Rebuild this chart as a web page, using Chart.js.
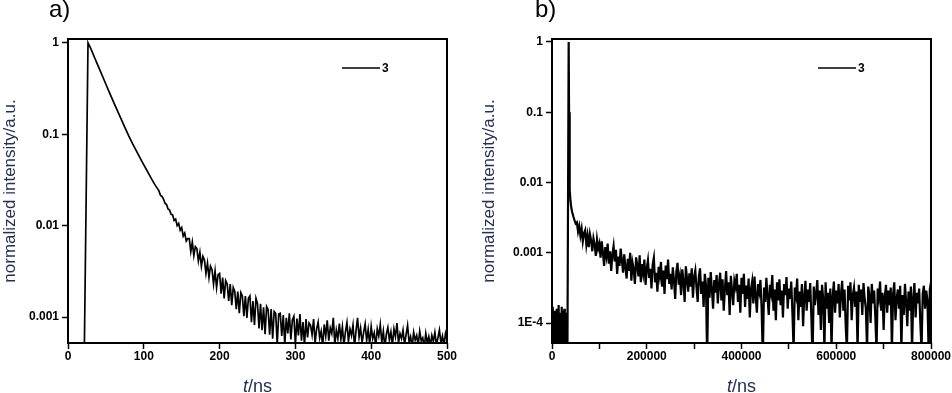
<!DOCTYPE html>
<html>
<head>
<meta charset="utf-8">
<script src="https://cdn.jsdelivr.net/npm/chart.js@4.4.1/dist/chart.umd.min.js"></script>
<style>
  body { margin: 0; background: #fff; width: 952px; height: 393px; position: relative; overflow: hidden;
         font-family: "Liberation Sans", Arial, sans-serif; }
  .box { position: absolute; top: 0; width: 476px; height: 393px; }
  .tag { position: absolute; top: -3px; font-size: 24px; line-height: 1; color: #000; }
  .xt  { position: absolute; top: 377px; width: 379px; font-size: 18px; line-height: 1; color: #233050; text-align: center; }
</style>
</head>
<body>
<div class="box" style="left:0"><canvas id="ca" width="476" height="393"></canvas></div>
<div class="box" style="left:476px"><canvas id="cb" width="476" height="393"></canvas></div>
<div class="tag" style="left:49px">a)</div>
<div class="tag" style="left:535px">b)</div>
<div class="xt" style="left:68px"><i>t</i>/ns</div>
<div class="xt" style="left:552px"><i>t</i>/ns</div>
<script>
// panel a) short time window, t in ns
const tA = [0, 21.5, 26.4, 30, 35, 40, 45, 50, 55, 60,
  65, 70, 75, 80, 85, 90, 95, 100, 105, 110, 115,
  120, 122, 124, 126, 128, 130, 132, 134, 136, 138, 140, 142, 144, 146, 148, 150, 152, 154, 156, 158,
  160, 162, 164, 166, 168, 170, 172, 174, 176, 178, 180, 182, 184, 186, 188, 190, 192, 194, 196, 198,
  200, 202, 204, 206, 208, 210, 212, 214, 216, 218, 220, 222, 224, 226, 228, 230, 232, 234, 236, 238,
  240, 242, 244, 246, 248, 250, 252, 254, 256, 258, 260, 262, 264, 266, 268, 270, 272, 274, 276, 278,
  280, 282, 284, 286, 288, 290, 292, 294, 296, 298, 300, 302, 304, 306, 308, 310, 312, 314, 316, 318,
  320, 322, 324, 326, 328, 330, 332, 334, 336, 338, 340, 342, 344, 346, 348, 350, 352, 354, 356, 358,
  360, 362, 364, 366, 368, 370, 372, 374, 376, 378, 380, 382, 384, 386, 388, 390, 392, 394, 396, 398,
  400, 402, 404, 406, 408, 410, 412, 414, 416, 418, 420, 422, 424, 426, 428, 430, 432, 434, 436, 438,
  440, 442, 444, 446, 448, 450, 452, 454, 456, 458, 460, 462, 464, 466, 468, 470, 472, 474, 476, 478,
  480, 482, 484, 486, 488, 490, 492, 494, 496, 498, 500];
const iA = [4e-4, 4e-4, 1.0, 0.867, 0.690, 0.551, 0.441, 0.352, 0.282, 0.226,
  0.182, 0.147, 0.119, 0.0966, 0.0794, 0.0661, 0.0552, 0.0462, 0.0389, 0.0327, 0.0277,
  0.0240, 0.0214, 0.0209, 0.0195, 0.0176, 0.0170, 0.0152, 0.0148, 0.0133, 0.0131, 0.0114, 0.0118, 0.0100, 0.0106, 0.0089, 0.0095, 0.0077, 0.0083, 0.0068, 0.0072,
  0.0072, 0.0052, 0.0066, 0.0047, 0.0059, 0.0056, 0.0041, 0.0051, 0.0036, 0.0046, 0.0042, 0.0030, 0.0039, 0.0027, 0.0036, 0.0033, 0.0023, 0.0032, 0.0021, 0.0029,
  0.0030, 0.0018, 0.0027, 0.0016, 0.0025, 0.0023, 0.0015, 0.0023, 0.00135, 0.0021, 0.0019, 0.00122, 0.0019, 0.0011, 0.00185, 0.0017, 0.00102, 0.0017, 0.00098, 0.0016,
  0.0017, 0.00088, 0.0015, 0.00082, 0.0016, 0.0014, 0.00075, 0.0014, 0.00072, 0.00128, 0.00065, 0.0013, 0.0012, 0.00064, 0.00122, 0.00058, 0.00115, 0.0011, 0.0005, 0.00108,
  0.0011, 0.00062, 0.00105, 0.0005, 0.00098, 0.00066, 0.0011, 0.00057, 0.00093, 0.00102, 0.0005, 0.00096, 0.00063, 0.00108, 0.00055, 0.00088, 0.00049, 0.00095, 0.0006, 0.00086,
  0.00081, 0.00064, 0.00095, 0.00052, 0.00074, 0.00088, 0.00059, 0.0007, 0.00048, 0.00083, 0.00062, 0.00092, 0.00055, 0.00076, 0.00066, 0.00098, 0.0005, 0.00072, 0.00058, 0.00085,
  0.00057, 0.00078, 0.00049, 0.00069, 0.00087, 0.00054, 0.00074, 0.00063, 0.00082, 0.00047, 0.00071, 0.00098, 0.0006, 0.00076, 0.00052, 0.00068, 0.00084, 0.00055, 0.00073, 0.0005,
  0.00079, 0.00058, 0.00067, 0.00048, 0.00074, 0.00062, 0.00083, 0.00053, 0.0007, 0.00046, 0.00065, 0.00077, 0.00056, 0.00069, 0.00049, 0.00074, 0.00061, 0.00086, 0.00052, 0.00066,
  0.00058, 0.00072, 0.0005, 0.00064, 0.00081, 0.00053, 0.00061, 0.00047, 0.00068, 0.00056, 0.00063, 0.00049, 0.0007, 0.00055, 0.00059, 0.00046, 0.00066, 0.00052, 0.00061, 0.00048,
  0.00063, 0.00054, 0.00068, 0.0005, 0.00059, 0.00072, 0.00052, 0.00062, 0.00049, 0.00066, 0.00057];

// panel b) long time window, t in ns
const tB = [0, 1000, 2000, 3000, 4000, 5000, 6000, 7000, 8000, 9000,
  10000, 11000, 12000, 13000, 14000, 15000, 16000, 17000, 18000, 19000,
  20000, 21000, 22000, 23000, 24000, 25000, 26000, 27000, 28000, 29000,
  30000, 31000, 32000, 32500,
  35200, 36000, 36800, 37800, 39000, 40500, 42500, 45000, 47500, 50000,
  52500, 55000, 57500, 60000, 62500, 65000, 67500, 70000, 72500, 75000, 77500, 80000, 82500, 85000, 87500, 90000, 92500, 95000, 97500, 100000,
  102500, 105000, 107500, 110000, 112500, 115000, 117500, 120000, 122500, 125000, 127500, 130000, 132500, 135000, 137500, 140000, 142500, 145000, 147500, 150000,
  152500, 155000, 157500, 160000, 162500, 165000, 167500, 170000, 172500, 175000, 177500, 180000, 182500, 185000, 187500, 190000, 192500, 195000, 197500, 200000,
  202500, 205000, 207500, 210000, 212500, 215000, 217500, 220000, 222500, 225000, 227500, 230000, 232500, 235000, 237500, 240000, 242500, 245000, 247500, 250000,
  252500, 255000, 257500, 260000, 262500, 265000, 267500, 270000, 272500, 275000, 277500, 280000, 282500, 285000, 287500, 290000, 292500, 295000, 297500, 300000,
  302500, 305000, 307500, 310000, 312500, 315000, 317500, 320000, 322500, 325000, 327500, 330000, 332500, 335000, 337500, 340000, 342500, 345000, 347500, 350000,
  352500, 355000, 357500, 360000, 362500, 365000, 367500, 370000, 372500, 375000, 377500, 380000, 382500, 385000, 387500, 390000, 392500, 395000, 397500, 400000,
  402500, 405000, 407500, 410000, 412500, 415000, 417500, 420000, 422500, 425000, 427500, 430000, 432500, 435000, 437500, 440000, 442500, 445000, 447500, 450000,
  452500, 455000, 457500, 460000, 462500, 465000, 467500, 470000, 472500, 475000, 477500, 480000, 482500, 485000, 487500, 490000, 492500, 495000, 497500, 500000,
  502500, 505000, 507500, 510000, 512500, 515000, 517500, 520000, 522500, 525000, 527500, 530000, 532500, 535000, 537500, 540000, 542500, 545000, 547500, 550000,
  552500, 555000, 557500, 560000, 562500, 565000, 567500, 570000, 572500, 575000, 577500, 580000, 582500, 585000, 587500, 590000, 592500, 595000, 597500, 600000,
  602500, 605000, 607500, 610000, 612500, 615000, 617500, 620000, 622500, 625000, 627500, 630000, 632500, 635000, 637500, 640000, 642500, 645000, 647500, 650000,
  652500, 655000, 657500, 660000, 662500, 665000, 667500, 670000, 672500, 675000, 677500, 680000, 682500, 685000, 687500, 690000, 692500, 695000, 697500, 700000,
  702500, 705000, 707500, 710000, 712500, 715000, 717500, 720000, 722500, 725000, 727500, 730000, 732500, 735000, 737500, 740000, 742500, 745000, 747500, 750000,
  752500, 755000, 757500, 760000, 762500, 765000, 767500, 770000, 772500, 775000, 777500, 780000, 782500, 785000, 787500, 790000, 792500, 795000, 797500, 800000];
const iB = [1.4e-4, 3e-5, 1.7e-4, 4e-5, 1.2e-4, 3e-5, 1.5e-4, 5e-5, 1.3e-4, 3e-5,
  1.6e-4, 4e-5, 1.1e-4, 3e-5, 1.8e-4, 5e-5, 1.4e-4, 3e-5, 1.2e-4, 4e-5,
  1.7e-4, 3e-5, 1.3e-4, 5e-5, 1.5e-4, 3e-5, 1.6e-4, 4e-5, 1.2e-4, 3e-5,
  1.4e-4, 4e-5, 1.3e-4, 3e-5,
  1.0, 0.1, 0.02, 0.008, 0.0055, 0.0045, 0.0038, 0.0033, 0.0029, 0.0026,
  2.7e-3, 2.0e-3, 2.4e-3, 1.75e-3, 2.2e-3, 1.45e-3, 1.9e-3, 2.1e-3, 1.3e-3, 1.75e-3, 1.2e-3, 1.85e-3, 1.5e-3, 1.05e-3, 1.6e-3, 1.3e-3, 9e-4, 1.55e-3, 1.15e-3, 1.35e-3,
  8.5e-4, 1.45e-3, 1.0e-3, 6.5e-4, 1.2e-3, 9e-4, 1.35e-3, 7e-4, 1.05e-3, 5.5e-4, 9.5e-4, 1.25e-3, 7.5e-4, 1.1e-3, 5e-4, 8.8e-4, 6.5e-4, 1.15e-3, 7.8e-4, 5.2e-4,
  9.5e-4, 6.2e-4, 4.3e-4, 8.2e-4, 5.5e-4, 1.0e-3, 4.0e-4, 7.2e-4, 5.8e-4, 3.6e-4, 8.6e-4, 6.6e-4, 4.6e-4, 9.2e-4, 3.8e-4, 6.9e-4, 5.1e-4, 8.0e-4, 3.5e-4, 6.0e-4,
  7.8e-4, 4.4e-4, 5.9e-4, 3.1e-4, 6.8e-4, 8.5e-4, 3.8e-4, 5.2e-4, 2.8e-4, 6.3e-4, 4.7e-4, 7.4e-4, 3.3e-4, 5.6e-4, 2.6e-4, 6.6e-4, 4.2e-4, 8.0e-4, 3.6e-4, 5.0e-4,
  3.0e-4, 6.2e-4, 4.1e-4, 2.2e-4, 5.4e-4, 7.2e-4, 3.5e-4, 4.6e-4, 2.5e-4, 5.8e-4, 3.8e-4, 2.0e-4, 6.4e-4, 4.3e-4, 2.8e-4, 5.1e-4, 3.3e-4, 6.0e-4, 2.3e-4, 4.5e-4,
  5.6e-4, 3.2e-4, 2.0e-4, 4.6e-4, 6.0e-4, 2.6e-4, 3.9e-4, 1.7e-4, 5.0e-4, 3.5e-4, 3e-5, 4.4e-4, 2.3e-4, 5.3e-4, 3.0e-4, 1.6e-4, 4.1e-4, 2.7e-4, 4.8e-4, 1.9e-4,
  3.6e-4, 5.2e-4, 2.1e-4, 4.2e-4, 1.5e-4, 3.1e-4, 5.5e-4, 2.5e-4, 3.8e-4, 1.3e-4, 4.7e-4, 2.9e-4, 1.8e-4, 4.0e-4, 3.3e-4, 5.0e-4, 2.0e-4, 3.5e-4, 1.4e-4, 4.4e-4,
  2.6e-4, 5.0e-4, 1.7e-4, 3.4e-4, 2.2e-4, 4.3e-4, 1.2e-4, 3.0e-4, 3.9e-4, 1.9e-4, 4.6e-4, 2.4e-4, 1.4e-4, 3.6e-4, 2.8e-4, 4.1e-4, 1.6e-4, 3e-5, 3.2e-4, 2.0e-4,
  4.4e-4, 2.3e-4, 1.3e-4, 3.5e-4, 2.7e-4, 4.8e-4, 1.5e-4, 3.0e-4, 1.1e-4, 3.8e-4, 2.1e-4, 4.2e-4, 1.8e-4, 2.9e-4, 1.2e-4, 3.6e-4, 2.5e-4, 4.5e-4, 1.6e-4, 3.1e-4,
  2.2e-4, 3.9e-4, 1.4e-4, 4e-5, 3.2e-4, 2.5e-4, 4.3e-4, 1.1e-4, 2.8e-4, 1.7e-4, 3.6e-4, 9e-5, 2.4e-4, 4.0e-4, 1.5e-4, 3.0e-4, 2.0e-4, 3.7e-4, 1.2e-4, 3e-5,
  3.3e-4, 1.8e-4, 2.6e-4, 4.1e-4, 1.3e-4, 2.9e-4, 8e-5, 3.5e-4, 2.2e-4, 4e-5, 3.8e-4, 1.6e-4, 2.7e-4, 1.0e-4, 3.1e-4, 4e-5, 2.4e-4, 3.9e-4, 1.4e-4, 2.9e-4,
  1.9e-4, 3.6e-4, 1.2e-4, 2.6e-4, 4.0e-4, 1.5e-4, 3.0e-4, 9e-5, 4e-5, 3.4e-4, 2.1e-4, 3.8e-4, 1.1e-4, 2.5e-4, 3.2e-4, 1.7e-4, 2.8e-4, 4e-5, 3.5e-4, 2.0e-4,
  3.0e-4, 1.3e-4, 3.7e-4, 2.2e-4, 1.6e-4, 4e-5, 3.3e-4, 2.5e-4, 1.0e-4, 3.6e-4, 1.9e-4, 2.9e-4, 1.2e-4, 4e-5, 3.1e-4, 2.3e-4, 3.9e-4, 1.5e-4, 2.7e-4, 8e-5,
  2.4e-4, 3.5e-4, 1.4e-4, 2.9e-4, 1.8e-4, 3.2e-4, 4e-5, 2.6e-4, 3.8e-4, 1.1e-4, 2.2e-4, 3.0e-4, 1.6e-4, 3.4e-4, 4e-5, 2.5e-4, 1.3e-4, 3.6e-4, 2.0e-4, 9e-5,
  2.8e-4, 1.5e-4, 3.3e-4, 4e-5, 2.3e-4, 3.7e-4, 1.2e-4, 2.7e-4, 1.9e-4, 3.1e-4, 1.0e-4, 4e-5, 2.6e-4, 3.4e-4, 1.6e-4, 2.9e-4, 2.1e-4, 4e-5, 3.0e-4, 3.8e-4];

const seriesName = '3';
const yTicksA = [0.001, 0.01, 0.1, 1];
const yLabelsA = ['0.001', '0.01', '0.1', '1'];
const yTicksB = [1e-4, 0.001, 0.01, 0.1, 1];
const yLabelsB = ['1E-4', '0.001', '0.01', '0.1', '1'];

const FONT = '"Liberation Sans", Arial, sans-serif';
Chart.defaults.font.family = FONT;

// box around the plot + the little legend
const framePlugin = {
  id: 'frame',
  afterDatasetsDraw(chart, args, opts) {
    const { ctx, chartArea: { left, top, right, bottom } } = chart;
    ctx.save();
    ctx.strokeStyle = '#000';
    ctx.lineWidth = 2;
    ctx.strokeRect(left, top, right - left, bottom - top);
    ctx.lineWidth = 1.3;
    ctx.beginPath();
    ctx.moveTo(opts.x, opts.y);
    ctx.lineTo(opts.x + 38, opts.y);
    ctx.stroke();
    ctx.fillStyle = '#000';
    ctx.font = 'bold 12px ' + FONT;
    ctx.textBaseline = 'middle';
    ctx.fillText(chart.data.datasets[0].label, opts.x + 40, opts.y + 1);
    ctx.restore();
  }
};

function panel(id, t, vals, o) {
  if (t.length !== vals.length) console.warn(id, 'length mismatch', t.length, vals.length);
  const tickFont = { family: FONT, size: 12, weight: 'bold' };
  return new Chart(document.getElementById(id), {
    type: 'line',
    data: {
      datasets: [{
        label: seriesName,
        data: t.map((x, i) => ({ x: x, y: vals[i] })),
        borderColor: '#000',
        borderWidth: o.lineW,
        pointRadius: 0,
        tension: 0,
        fill: false
      }]
    },
    options: {
      responsive: false,
      animation: false,
      layout: { padding: { left: o.padLeft, right: o.padRight, top: 39, bottom: 0 } },
      plugins: {
        legend: { display: false },
        tooltip: { enabled: false },
        frame: { x: 342, y: 68 }
      },
      scales: {
        x: {
          type: 'linear',
          min: 0,
          max: o.xMax,
          ticks: {
            stepSize: o.xStep,
            autoSkip: false,
            maxRotation: 0,
            padding: 0,
            color: '#000',
            font: tickFont,
            callback: o.xLabel
          },
          grid: { display: true, drawOnChartArea: false, tickLength: 6, tickColor: '#000', tickWidth: 1.5 },
          border: { display: false },
          afterFit: s => { s.height = 50; s.paddingLeft = 0; s.paddingRight = 0; }
        },
        y: {
          type: 'logarithmic',
          min: o.yMin,
          max: 1.1,
          afterBuildTicks: s => { s.ticks = o.yTicks.map(v => ({ value: v })); },
          ticks: {
            autoSkip: false,
            padding: 3,
            color: '#000',
            font: tickFont,
            callback: (v, i) => o.yLabels[i]
          },
          grid: { display: true, drawOnChartArea: false, tickLength: 6, tickColor: '#000', tickWidth: 1.5 },
          border: { display: false },
          title: {
            display: true,
            text: 'normalized intensity/a.u.',
            color: '#233050',
            font: { family: FONT, size: 17 },
            padding: 0
          },
          afterFit: s => { s.width = o.yWidth; }
        }
      }
    },
    plugins: [framePlugin]
  });
}

panel('ca', tA, iA, {
  padLeft: 0, padRight: 29, yWidth: 68, lineW: 1.7,
  xMax: 500, xStep: 100, xLabel: v => String(v),
  yMin: 0.00052, yTicks: yTicksA, yLabels: yLabelsA
});
panel('cb', tB, iB, {
  padLeft: 3, padRight: 21, yWidth: 73, lineW: 2.2,
  xMax: 800000, xStep: 100000, xLabel: v => (v % 200000 === 0 ? String(v) : ''),
  yMin: 5.2e-5, yTicks: yTicksB, yLabels: yLabelsB
});
</script>
</body>
</html>
